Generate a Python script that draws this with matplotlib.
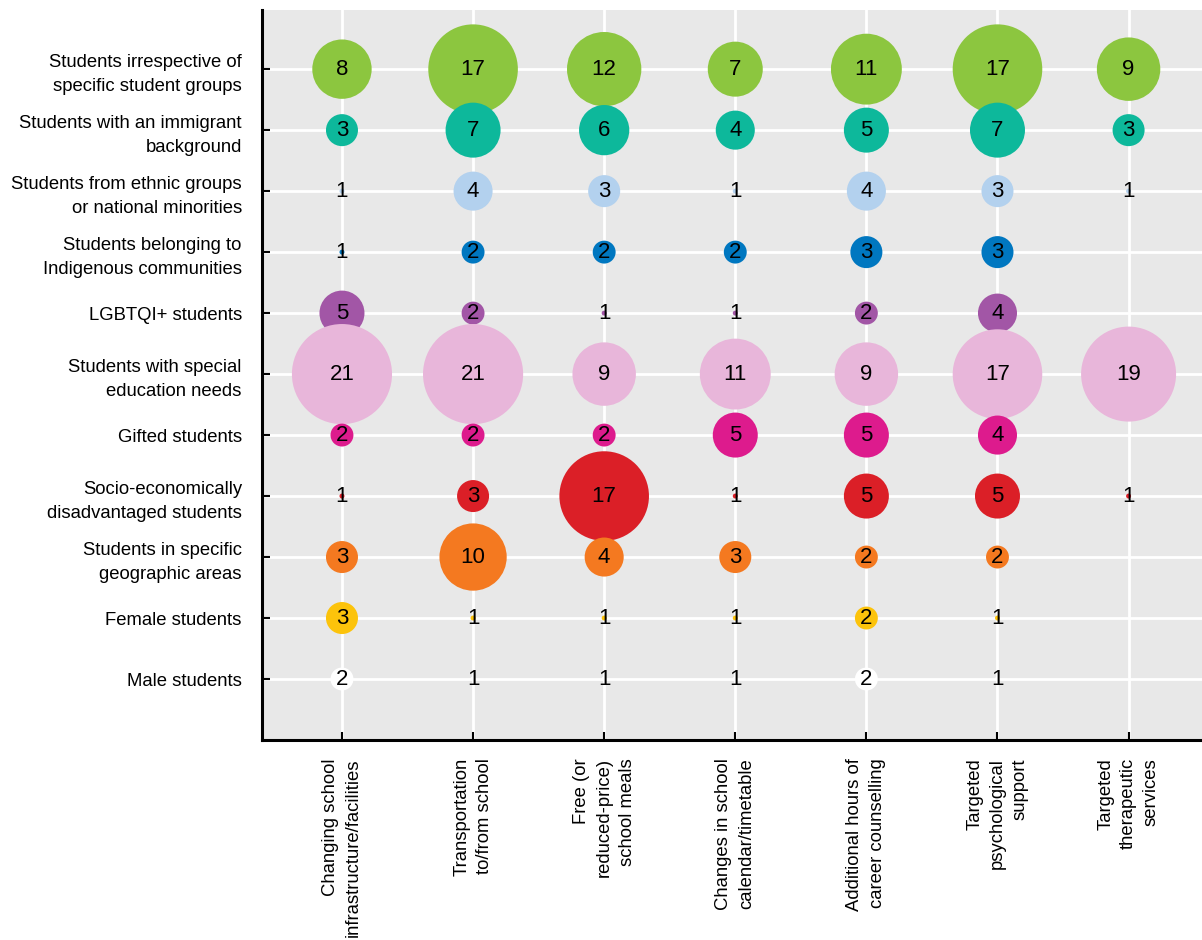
import numpy as np
import matplotlib
matplotlib.use("Agg")
import matplotlib.pyplot as plt

plt.rcParams['font.family'] = ['Liberation Sans', 'DejaVu Sans']

groups = ["Students irrespective of\nspecific student groups",
          "Students with an immigrant\nbackground",
          "Students from ethnic groups\nor national minorities",
          "Students belonging to\nIndigenous communities",
          "LGBTQI+ students",
          "Students with special\neducation needs",
          "Gifted students",
          "Socio-economically\ndisadvantaged students",
          "Students in specific\ngeographic areas",
          "Female students",
          "Male students"]

measures = ["Changing school\ninfrastructure/facilities",
            "Transportation\nto/from school",
            "Free (or\nreduced-price)\nschool meals",
            "Changes in school\ncalendar/timetable",
            "Additional hours of\ncareer counselling",
            "Targeted\npsychological\nsupport",
            "Targeted\ntherapeutic\nservices"]

nan = np.nan
counts = np.array([
    [8, 17, 12, 7, 11, 17, 9],
    [3, 7, 6, 4, 5, 7, 3],
    [1, 4, 3, 1, 4, 3, 1],
    [1, 2, 2, 2, 3, 3, nan],
    [5, 2, 1, 1, 2, 4, nan],
    [21, 21, 9, 11, 9, 17, 19],
    [2, 2, 2, 5, 5, 4, nan],
    [1, 3, 17, 1, 5, 5, 1],
    [3, 10, 4, 3, 2, 2, nan],
    [3, 1, 1, 1, 2, 1, nan],
    [2, 1, 1, 1, 2, 1, nan],
])

colors = ["#8cc63f", "#0db89b", "#b3d1ee", "#0077c0", "#a256a6", "#e8b6da",
          "#dd1b8d", "#db1f27", "#f47920", "#fcc30b", "#ffffff"]

fig = plt.figure(figsize=(12.02, 9.40), dpi=100)
ax = fig.add_axes([262/1202, 1-740/940, 1-262/1202, 730/940])
ax.set_facecolor("#e8e8e8")

# bubble area ~ value (px -> pt at 100 dpi)
px2pt = 0.72
for i in range(len(groups)):
    for j in range(len(measures)):
        v = counts[i, j]
        if np.isnan(v):
            continue
        r = np.sqrt(125*(v - 0.95))
        s = (2*r*px2pt)**2
        ax.scatter(j, i, s=s, color=colors[i], edgecolors='none', zorder=3+i*0.01)
        ax.text(j, i, str(int(v)), ha='center', va='center', fontsize=16,
                color='black', zorder=5)

ax.set_xlim(-0.61, 6.56)
ax.set_ylim(11.0, -0.97)
ax.set_xticks(range(len(measures)))
ax.set_yticks(range(len(groups)))
ax.set_xticklabels(measures, rotation=90, va='top', ha='center',
                   multialignment='right', fontsize=13.3, linespacing=1.45)
ax.set_yticklabels(groups, multialignment='right', fontsize=13.3,
                   linespacing=1.5)
ax.grid(True, color='white', linewidth=2)
ax.set_axisbelow(True)
ax.tick_params(direction='in', length=6, width=1.5)
ax.tick_params(axis='y', pad=14.5)
ax.tick_params(axis='x', pad=13)
for side in ['top', 'right']:
    ax.spines[side].set_visible(False)
for side in ['left', 'bottom']:
    ax.spines[side].set_linewidth(2.2)
    ax.spines[side].set_color('black')

fig.savefig("out.png", dpi=100)
